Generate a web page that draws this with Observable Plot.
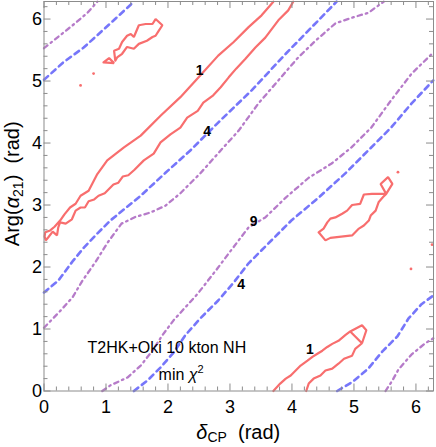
<!DOCTYPE html>
<html><head><meta charset="utf-8">
<script src="https://cdn.jsdelivr.net/npm/d3@7"></script>
<script src="https://cdn.jsdelivr.net/npm/@observablehq/plot@0.6"></script>
<style>body{margin:0;background:#fff;} svg{display:block;}</style>
</head><body><div id="chart"></div>
<script>
const TAU = 2 * Math.PI;
// contour value 1 (red, solid): main band (upper edge down to left end, lower edge back up)
const redBandTop = [[3.70,6.28],[3.51,6.06],[3.30,5.87],[3.06,5.63],[2.81,5.41],[2.52,5.09],[2.20,4.74],[1.88,4.44],[1.56,4.12],[1.29,3.93],[1.02,3.72],[0.86,3.50],[0.72,3.23],[0.59,3.15],[0.51,3.02],[0.42,2.96],[0.33,2.85],[0.26,2.75],[0.17,2.65],[0.10,2.59],[0.02,2.56],[0.01,2.49],[0.03,2.43],[0.07,2.48],[0.14,2.57],[0.21,2.51],[0.23,2.64],[0.26,2.72],[0.35,2.70],[0.45,2.77],[0.51,2.91],[0.59,2.96],[0.66,2.96],[0.72,3.06],[0.81,3.09],[0.88,3.15],[0.98,3.19],[1.04,3.25],[1.12,3.33],[1.20,3.36],[1.27,3.46],[1.36,3.48],[1.46,3.57],[1.61,3.72],[1.77,3.83],[1.88,4.01],[2.04,4.14],[2.20,4.25],[2.31,4.41],[2.48,4.52],[2.57,4.65],[2.73,4.77],[2.85,4.90],[2.98,5.06],[3.10,5.20],[3.25,5.36],[3.41,5.54],[3.57,5.70],[3.78,5.98],[3.94,6.14],[4.02,6.28]];
const redBandBottom = [[3.70,0],[3.81,0.12],[3.90,0.20],[3.98,0.25],[4.06,0.33],[4.14,0.41],[4.25,0.49],[4.33,0.55],[4.41,0.60],[4.49,0.65],[4.57,0.71],[4.65,0.76],[4.75,0.81],[4.86,0.90],[4.94,0.96],[5.13,1.06],[5.20,0.98],[5.13,0.77],[4.94,0.96],[5.13,0.77],[5.02,0.68],[4.97,0.57],[4.84,0.52],[4.75,0.44],[4.65,0.36],[4.54,0.33],[4.46,0.25],[4.35,0.20],[4.27,0.12],[4.23,0]];
const redIslandTL = [[1.15,5.33],[1.13,5.49],[1.21,5.52],[1.26,5.63],[1.34,5.73],[1.40,5.76],[1.45,5.71],[1.53,5.90],[1.64,5.92],[1.75,5.92],[1.80,6.00],[1.91,5.90],[1.85,5.81],[1.80,5.73],[1.75,5.71],[1.66,5.65],[1.53,5.60],[1.45,5.52],[1.34,5.55],[1.26,5.44],[1.18,5.38],[1.15,5.33]];
const redIslandTL2 = [[0.96,5.30],[1.05,5.37],[1.13,5.29],[0.96,5.30]];
const redIslandR = [[4.43,2.56],[4.54,2.43],[4.62,2.47],[4.97,2.51],[5.08,2.62],[5.16,2.67],[5.24,2.75],[5.27,2.83],[5.35,2.91],[5.40,3.05],[5.47,3.13],[5.52,3.18],[5.62,3.34],[5.55,3.45],[5.43,3.34],[5.52,3.18],[5.29,3.18],[5.16,3.17],[5.10,3.02],[4.97,3.00],[4.89,2.91],[4.81,2.86],[4.70,2.80],[4.62,2.78],[4.57,2.72],[4.51,2.62],[4.43,2.56]];
const redSpecks = [[0.80,5.12],[0.59,4.93],[5.71,3.53],[6.26,2.36],[5.92,1.97]];
// contour value 4 (blue, dashed)
const blueA = [[0,5.02],[0.31,5.30],[0.64,5.54],[1.07,5.93],[1.45,6.28]];
const blueB = [[0,1.59],[0.23,1.78],[0.46,2.09],[0.64,2.31],[0.86,2.54],[1.07,2.75],[1.56,3.15],[1.96,3.52],[2.36,3.88],[2.81,4.33],[3.35,4.85],[3.90,5.44],[4.31,5.86],[4.72,6.28]];
const blueC = [[1.45,0],[1.67,0.17],[1.88,0.38],[2.09,0.62],[2.28,0.90],[2.52,1.17],[2.81,1.46],[3.06,1.75],[3.30,2.06],[3.51,2.27],[3.78,2.54],[3.99,2.75],[4.43,3.12],[4.86,3.51],[5.23,3.88],[5.60,4.25],[5.93,4.64],[6.28,5.01]];
const blueD = [[4.73,0],[4.98,0.15],[5.23,0.36],[5.46,0.64],[5.70,0.88],[5.88,1.17],[6.09,1.40],[6.28,1.54]];
// contour value 9 (purple, dash-dot)
const purpleA = [[0,5.53],[0.25,5.73],[0.50,5.93],[0.70,6.10],[0.86,6.28]];
const purpleB = [[0,1.02],[0.27,1.30],[0.46,1.51],[0.62,1.78],[0.83,2.08],[1.03,2.40],[1.25,2.70],[1.48,2.81],[1.72,2.88],[1.96,2.99],[2.20,3.19],[2.52,3.51],[2.85,3.88],[3.14,4.20],[3.46,4.64],[3.78,5.01],[4.10,5.38],[4.38,5.65],[4.70,5.93],[4.96,6.02],[5.23,6.10],[5.48,6.28]];
const purpleC = [[0.94,0],[1.07,0.09],[1.35,0.22],[1.56,0.41],[1.75,0.65],[1.91,0.90],[2.09,1.14],[2.48,1.57],[2.80,1.98],[2.98,2.22],[3.30,2.64],[3.57,2.80],[3.90,3.12],[4.27,3.44],[4.64,3.67],[4.96,3.93],[5.28,4.25],[5.60,4.69],[5.93,5.12],[6.28,5.46]];
const purpleD = [[5.51,0],[5.62,0.17],[5.72,0.35],[5.93,0.59],[6.15,0.77],[6.28,0.85]];
// contour labels
const labelText = ["1","4","9","4","1"];
const labelX = [2.51,2.63,3.38,3.18,4.29];
const labelY = [5.17,4.18,2.73,1.72,0.67];
// ticks
const majorTicks = [0,1,2,3,4,5,6];
const minorTicks = d3.range(1,32).filter(i => i % 5 !== 0).map(i => i / 5);
const noteText = "T2HK+Oki 10 kton NH";

const W = 436, H = 447, mL = 43.5, mR = 3, mT = 1, mB = 56.5;
const iW = W - mL - mR, iH = H - mT - mB;
const RED = "#f86e6e", BLUE = "#7676fa", PURPLE = "#b67bc9", FRAME = "#8c8c8c";
const pts = a => a.map(([x, y]) => ({x, y}));
const redL = a => Plot.line(pts(a), {x: "x", y: "y", stroke: RED, strokeWidth: 2.2, strokeLinejoin: "miter", curve: "linear"});
const blueL = a => Plot.line(pts(a), {x: "x", y: "y", stroke: BLUE, strokeWidth: 2.6, strokeDasharray: "5.5,4.5"});
const purpleL = a => Plot.line(pts(a), {x: "x", y: "y", stroke: PURPLE, strokeWidth: 2.3, strokeDasharray: "4.5,4,1.6,4"});
const labels = labelText.map((t, i) => ({t, x: labelX[i], y: labelY[i]}));

const plot = Plot.plot({
  width: W, height: H,
  marginLeft: mL, marginRight: mR, marginTop: mT, marginBottom: mB,
  style: {fontFamily: "'Liberation Sans', Arial, sans-serif", fontSize: "18px", background: "white", color: "black"},
  x: {domain: [0, TAU], label: null},
  y: {domain: [0, TAU], label: null},
  marks: [
    purpleL(purpleA), purpleL(purpleB), purpleL(purpleC), purpleL(purpleD),
    blueL(blueA), blueL(blueB), blueL(blueC), blueL(blueD),
    redL(redBandTop), redL(redBandBottom), redL(redIslandTL), redL(redIslandTL2), redL(redIslandR),
    Plot.dot(pts(redSpecks), {x: "x", y: "y", r: 1.4, fill: RED, stroke: "none"}),
    Plot.text(labels, {x: "x", y: "y", text: "t", fontSize: 14, fontWeight: "bold", fill: "black"}),
    Plot.frame({stroke: FRAME}),
    Plot.ruleX(majorTicks, {x: d => d, stroke: FRAME, insetTop: iH - 7}),
    Plot.ruleX(minorTicks, {x: d => d, stroke: FRAME, insetTop: iH - 4}),
    Plot.ruleX(majorTicks, {x: d => d, stroke: FRAME, insetBottom: iH - 7}),
    Plot.ruleX(minorTicks, {x: d => d, stroke: FRAME, insetBottom: iH - 4}),
    Plot.ruleY(majorTicks, {y: d => d, stroke: FRAME, insetRight: iW - 7}),
    Plot.ruleY(minorTicks, {y: d => d, stroke: FRAME, insetRight: iW - 4}),
    Plot.ruleY(majorTicks, {y: d => d, stroke: FRAME, insetLeft: iW - 7}),
    Plot.ruleY(minorTicks, {y: d => d, stroke: FRAME, insetLeft: iW - 4}),
    Plot.axisX(majorTicks, {tickSize: 0, tickPadding: 9, fontSize: 18, label: null, tickFormat: d => String(d)}),
    Plot.axisY(majorTicks, {tickSize: 0, tickPadding: 2, fontSize: 18, label: null, tickFormat: d => String(d)})
  ]
});
document.getElementById("chart").appendChild(plot);

const svg = d3.select(plot);
const sx = plot.scale("x"), sy = plot.scale("y");
const ff = "'Liberation Sans', Arial, sans-serif";
// annotation
svg.append("text").attr("x", sx.apply(1.99)).attr("y", sy.apply(0.61))
  .attr("text-anchor", "middle").attr("font-size", 16).attr("font-family", ff).text(noteText);
const n2 = svg.append("text").attr("x", sx.apply(2.22)).attr("y", sy.apply(0.17))
  .attr("font-size", 16).attr("font-family", ff);
n2.append("tspan").text("min ");
n2.append("tspan").attr("font-style", "italic").text("χ");
n2.append("tspan").attr("font-size", 11).attr("dy", -7).text("2");
// x title
const xt = svg.append("text").attr("x", (mL + W - mR) / 2).attr("y", 439)
  .attr("text-anchor", "middle").attr("font-size", 20).attr("font-family", ff);
xt.append("tspan").attr("font-style", "italic").text("δ");
xt.append("tspan").attr("font-size", 14).attr("dy", 3).text("CP");
xt.append("tspan").attr("dy", -3).text("\u00a0\u00a0(rad)");
// y title
const yt = svg.append("text").attr("transform", `translate(19,${(mT + H - mB) / 2 - 12}) rotate(-90)`)
  .attr("text-anchor", "middle").attr("font-size", 20).attr("font-family", ff);
yt.append("tspan").text("Arg(");
yt.append("tspan").attr("font-style", "italic").text("α");
yt.append("tspan").attr("font-size", 14).attr("dy", 4).text("21");
yt.append("tspan").attr("dy", -4).text(")\u00a0\u00a0(rad)");
</script></body></html>
